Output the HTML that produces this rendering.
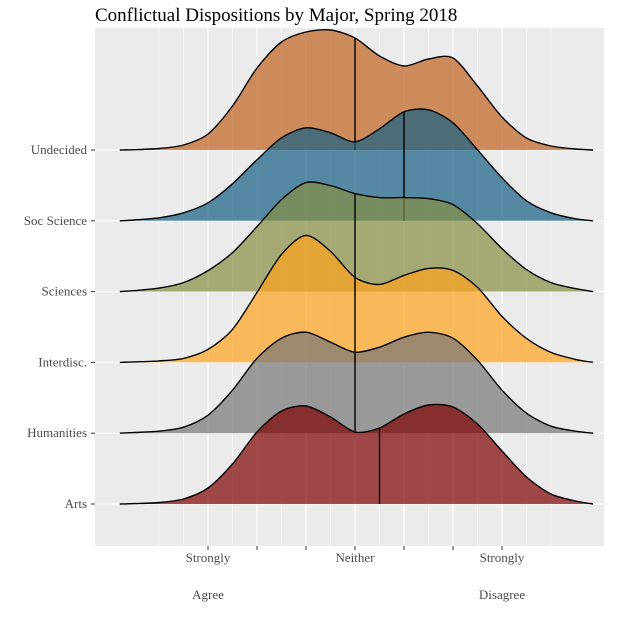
<!DOCTYPE html>
<html><head><meta charset="utf-8"><style>
body{margin:0;background:#fff;}
svg text{font-family:"Liberation Serif",serif;}
</style></head><body>
<svg id="c" width="624" height="624" xmlns="http://www.w3.org/2000/svg">
<rect x="0" y="0" width="624" height="624" fill="#fff"/>
<text x="95" y="21" font-size="19" fill="#000">Conflictual Dispositions by Major, Spring 2018</text>
<rect x="95" y="28" width="509" height="518" fill="#ebebeb"/>
<g id="grid"></g><g id="ridges"></g><g id="axes"></g>
</svg>
<script>
const categories=["Undecided","Soc Science","Sciences","Interdisc.","Humanities","Arts"];
const xs=[-0.8,-0.5,0,0.5,1,1.5,2,2.5,3,3.5,4,4.5,5,5.5,6,6.5,7,7.5,8,8.5,8.86];
const undecided=[0,0.3,1.5,5,16,44,82,108,118,120,112,94,84,91,92,64,33,12,4,1,0];
const socScience=[0,0.8,3,8,18,37,61,83,93,88,79,92,109,111,98,71,43,20,8,2,0];
const sciences=[0,1,3.5,9,21,39,65,92,109,106,98,94,94,93,87,68,43,22,9,3,0];
const interdisc=[0,0.5,1.5,4,13,33,70,108,127,111,85,78,87,94,92,75,46,24,10,3,0];
const humanities=[0,0.7,2,6,18,43,75,95,101,91,81,86,96,101,95,73,43,20,7,2,0];
const arts=[0,0.4,1.5,5,16,40,72,93,98,87,72,76,90,99,97,80,53,27,10,3,0];
const medians=[4,5,4,4,4,4.5];
const tickValues=[1,2,3,4,5,6,7];
const tickLine1=["Strongly","","","Neither","","","Strongly"];
const tickLine2=["Agree","","","","","","Disagree"];
const series=[undecided,socScience,sciences,interdisc,humanities,arts];
const colors=["#c0621f","#155f84","#878e41","#ffa21c","#767676","#7e0100"];
const NS="http://www.w3.org/2000/svg";
const xS=v=>208+(v-1)*49;
const baseY=i=>150+i*70.8;
const hS=d=>d;
function mk(t,a,p){const e=document.createElementNS(NS,t);for(const k in a)e.setAttribute(k,a[k]);p.appendChild(e);return e;}
const grid=document.getElementById('grid'),ridges=document.getElementById('ridges'),axes=document.getElementById('axes');
for(let v=0;v<=8.001;v+=0.5){
 const major=Number.isInteger(v)&&v>=1&&v<=7;
 const l=mk('line',{x1:xS(v),x2:xS(v),y1:28,y2:546,stroke:'#fff','stroke-width':major?1.1:0.55},grid);
 
 
}
categories.forEach((c,i)=>{
 const l=mk('line',{x1:95,x2:604,y1:baseY(i),y2:baseY(i),stroke:'#fff','stroke-width':1.1},grid);
 
 
});
function pathFor(i){
 const d=series[i],b=baseY(i);
 const pts=xs.map((v,k)=>[xS(v),b-hS(d[k])]);
 let s='M'+pts[0][0]+','+pts[0][1];
 for(let k=0;k<pts.length-1;k++){
  const p0=pts[Math.max(0,k-1)],p1=pts[k],p2=pts[k+1],p3=pts[Math.min(pts.length-1,k+2)];
  const c1=[p1[0]+(p2[0]-p0[0])/7,p1[1]+(p2[1]-p0[1])/7];
  const c2=[p2[0]-(p3[0]-p1[0])/7,p2[1]-(p3[1]-p1[1])/7];
  s+=' C'+c1[0]+','+c1[1]+' '+c2[0]+','+c2[1]+' '+p2[0]+','+p2[1];
 }
 return s;
}
function interp(d,v){for(let k=0;k<xs.length-1;k++){if(v>=xs[k]&&v<=xs[k+1]){const t=(v-xs[k])/(xs[k+1]-xs[k]);return d[k]+t*(d[k+1]-d[k]);}}return 0;}
categories.forEach((c,i)=>{
 const g=mk('g',{},ridges);
 
 
 const p=pathFor(i),b=baseY(i);
 const f=mk('path',{d:p+' L'+xS(xs[xs.length-1])+','+b+' L'+xS(xs[0])+','+b+' Z',fill:colors[i],'fill-opacity':0.7,stroke:'none'},g);
 
 
 const ln=mk('path',{d:p,fill:'none',stroke:'#000','stroke-width':1.4},g);
 
 
 const m=medians[i];
 const ml=mk('line',{x1:xS(m),x2:xS(m),y1:b,y2:b-hS(interp(series[i],m)),stroke:'#000','stroke-width':1.4},g);
 
 
 const tk=mk('line',{x1:91,x2:95,y1:b,y2:b,stroke:'#333','stroke-width':1},axes);
 
 
 const t=mk('text',{x:87,y:b+4,'text-anchor':'end','font-size':13,fill:'#4d4d4d'},axes);
 t.textContent=c;
 
 
});
tickValues.forEach((v,k)=>{
 const tk=mk('line',{x1:xS(v),x2:xS(v),y1:546,y2:550,stroke:'#333','stroke-width':1},axes);
 
 
 if(tickLine1[k]){const t=mk('text',{x:xS(v),y:562,'text-anchor':'middle','font-size':13,fill:'#4d4d4d'},axes);t.textContent=tickLine1[k];
 
 }
 if(tickLine2[k]){const t=mk('text',{x:xS(v),y:599,'text-anchor':'middle','font-size':13,fill:'#4d4d4d'},axes);t.textContent=tickLine2[k];
 
 }
});
</script>
</body></html>
